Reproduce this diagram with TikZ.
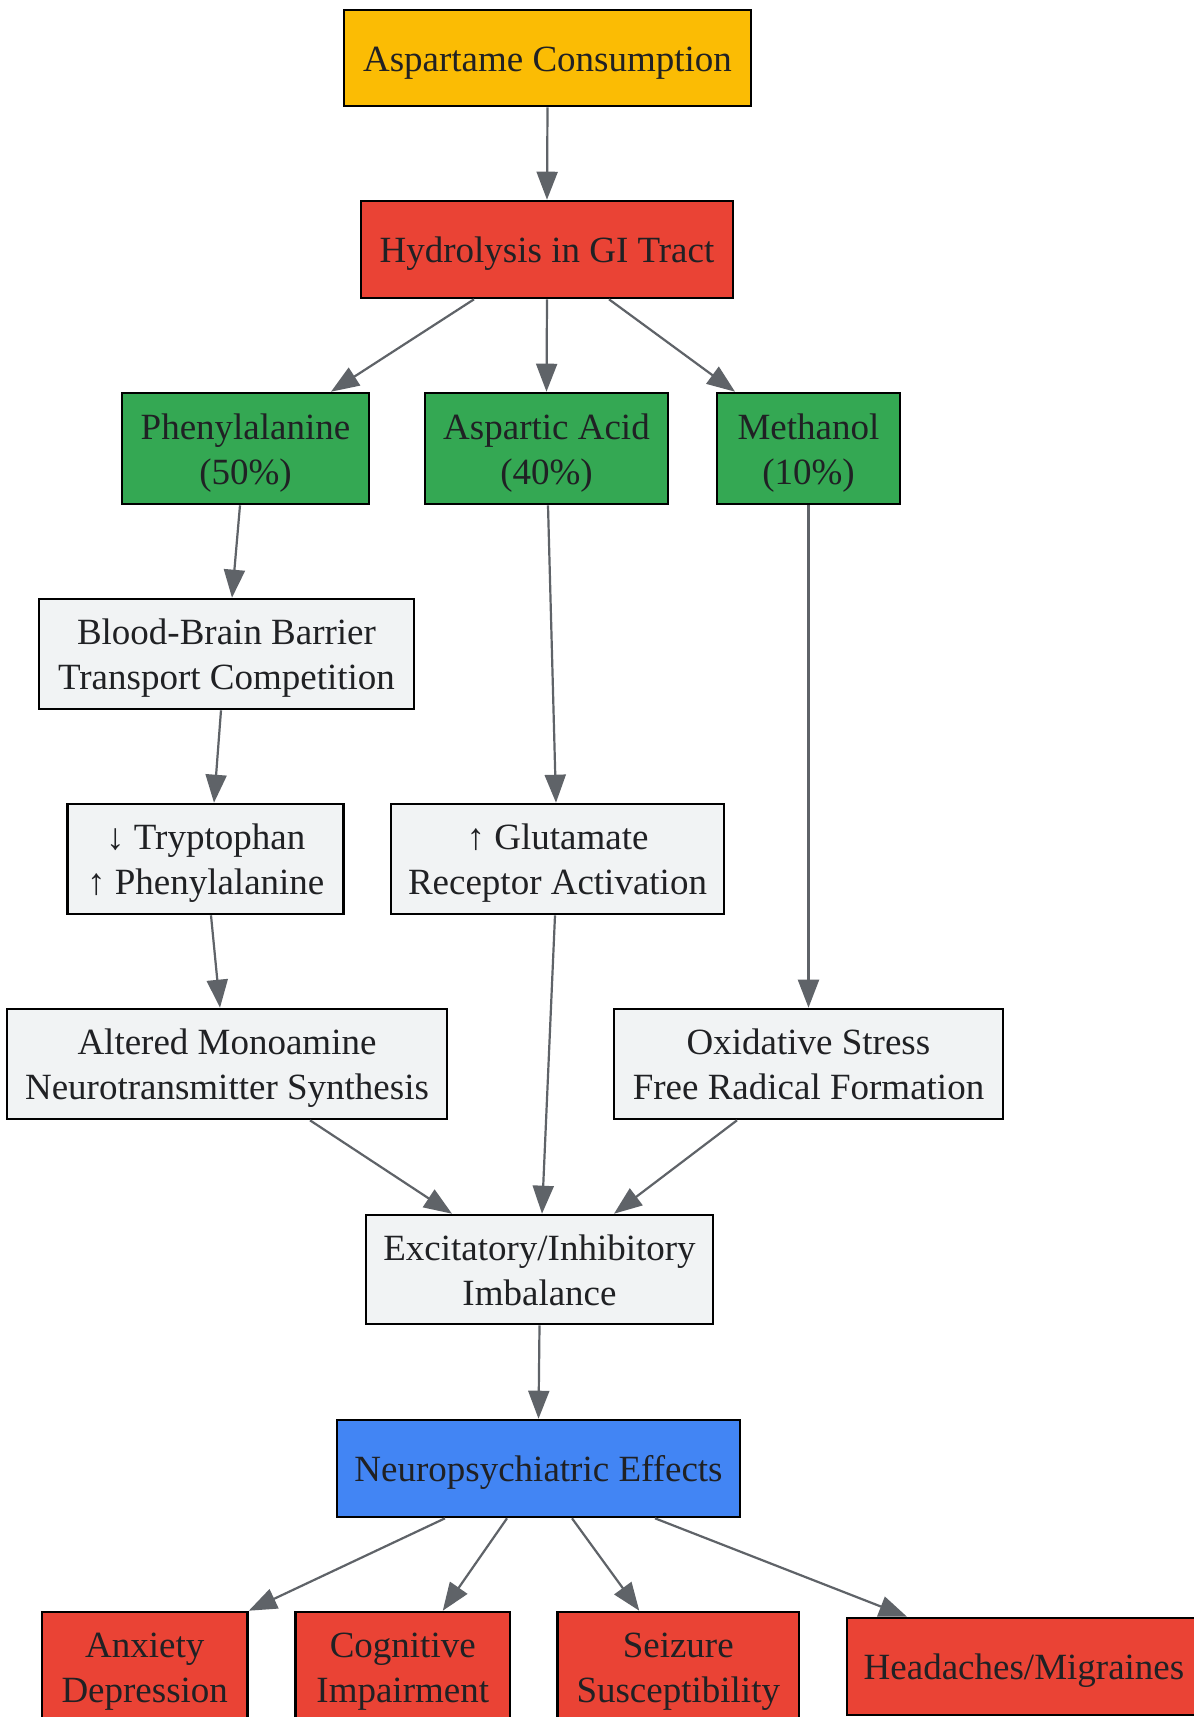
\documentclass[tikz,border=0pt]{standalone}
\usepackage{fontspec}
\setmainfont{Liberation Serif}
\usetikzlibrary{arrows.meta}
\definecolor{gyellow}{HTML}{FBBC04}
\definecolor{gred}{HTML}{EA4335}
\definecolor{ggreen}{HTML}{34A853}
\definecolor{gblue}{HTML}{4285F4}
\definecolor{ggray}{HTML}{F1F3F4}
\definecolor{edgec}{HTML}{5F6368}
\definecolor{textc}{HTML}{202124}
\newcommand{\tst}{\rule{0pt}{35pt}}
\newcommand{\bst}{\rule[-9pt]{0pt}{0pt}}
\begin{document}
\begin{tikzpicture}[x=1pt,y=-1pt,
  box/.style={draw=black, line width=2.6pt, align=center, inner sep=0pt, text=textc,
    font=\fontsize{37}{45}\selectfont},
  edge/.style={draw=edgec, line width=2.2pt, -{Triangle[length=28pt,width=21pt]}}]
\useasboundingbox (0,0) rectangle (1194,1717);
\clip (0,0) rectangle (1194,1717);
\fill[white] (0,0) rectangle (1194,1717);
% nodes
\node[box, fill=gyellow, minimum width=407pt, minimum height=96pt] (asp) at (547.5,58) {\tst Aspartame Consumption\bst};
\node[box, fill=gred, minimum width=372pt, minimum height=97pt] (hyd) at (547,249.5) {\tst Hydrolysis in GI Tract\bst};
\node[box, fill=ggreen, minimum width=247pt, minimum height=111pt] (phe) at (245.5,448.5) {\tst Phenylalanine\\(50\%)\bst};
\node[box, fill=ggreen, minimum width=243pt, minimum height=111pt] (aac) at (546.5,448.5) {\tst Aspartic Acid\\(40\%)\bst};
\node[box, fill=ggreen, minimum width=183pt, minimum height=111pt] (met) at (808.5,448.5) {\tst Methanol\\(10\%)\bst};
\node[box, fill=ggray, minimum width=375pt, minimum height=110pt] (bbb) at (226.5,654) {\tst Blood-Brain Barrier\\Transport Competition\bst};
\node[box, fill=ggray, minimum width=276pt, minimum height=110pt] (try) at (205.7,859) {\tst ↓ Tryptophan\\↑ Phenylalanine\bst};
\node[box, fill=ggray, minimum width=333pt, minimum height=110pt] (glu) at (557.5,859) {\tst ↑ Glutamate\\Receptor Activation\bst};
\node[box, fill=ggray, minimum width=440pt, minimum height=110pt] (alt) at (227,1064) {\tst Altered Monoamine\\Neurotransmitter Synthesis\bst};
\node[box, fill=ggray, minimum width=389pt, minimum height=110pt] (oxi) at (808.5,1064) {\tst Oxidative Stress\\Free Radical Formation\bst};
\node[box, fill=ggray, minimum width=347pt, minimum height=109pt] (exc) at (539.5,1269.5) {\tst Excitatory/Inhibitory\\Imbalance\bst};
\node[box, fill=gblue, minimum width=403pt, minimum height=97pt] (neu) at (538.5,1468.5) {\tst Neuropsychiatric Effects\bst};
\node[box, fill=gred, minimum width=205.5pt, minimum height=110pt] (anx) at (144.75,1667) {\tst Anxiety\\Depression\bst};
\node[box, fill=gred, minimum width=214.5pt, minimum height=110pt] (cog) at (402.75,1667) {\tst Cognitive\\Impairment\bst};
\node[box, fill=gred, minimum width=241.5pt, minimum height=110pt] (sei) at (678.25,1667) {\tst Seizure\\Susceptibility\bst};
\node[box, fill=gred, minimum width=354pt, minimum height=97pt] (hea) at (1024,1666.5) {\tst Headaches/Migraines\bst};
% edges
\draw[edge] (asp.south) -- (hyd.north);
\draw[edge] ([xshift=-73pt]hyd.south) -- ([xshift=85.5pt]phe.north);
\draw[edge] (hyd.south) -- (aac.north);
\draw[edge] ([xshift=62pt]hyd.south) -- ([xshift=-73.5pt]met.north);
\draw[edge] ([xshift=-5.5pt]phe.south) -- ([xshift=5.5pt]bbb.north);
\draw[edge] ([xshift=1.5pt]aac.south) -- ([xshift=-1.5pt]glu.north);
\draw[edge] (met.south) -- (oxi.north);
\draw[edge] ([xshift=-5.5pt]bbb.south) -- ([xshift=8.3pt]try.north);
\draw[edge] ([xshift=5.3pt]try.south) -- ([xshift=-7pt]alt.north);
\draw[edge] ([xshift=-2.5pt]glu.south) -- ([xshift=2.5pt]exc.north);
\draw[edge] ([xshift=83pt]alt.south) -- ([xshift=-87.5pt]exc.north);
\draw[edge] ([xshift=-71.5pt]oxi.south) -- ([xshift=74.5pt]exc.north);
\draw[edge] (exc.south) -- (neu.north);
\draw[edge] ([xshift=-93.5pt]neu.south) -- (anx.north east);
\draw[edge] ([xshift=-31.5pt]neu.south) -- ([xshift=40pt]cog.north);
\draw[edge] ([xshift=33.5pt]neu.south) -- ([xshift=-39pt]sei.north);
\draw[edge] ([xshift=116.5pt]neu.south) -- ([xshift=-117pt]hea.north);
\end{tikzpicture}
\end{document}
